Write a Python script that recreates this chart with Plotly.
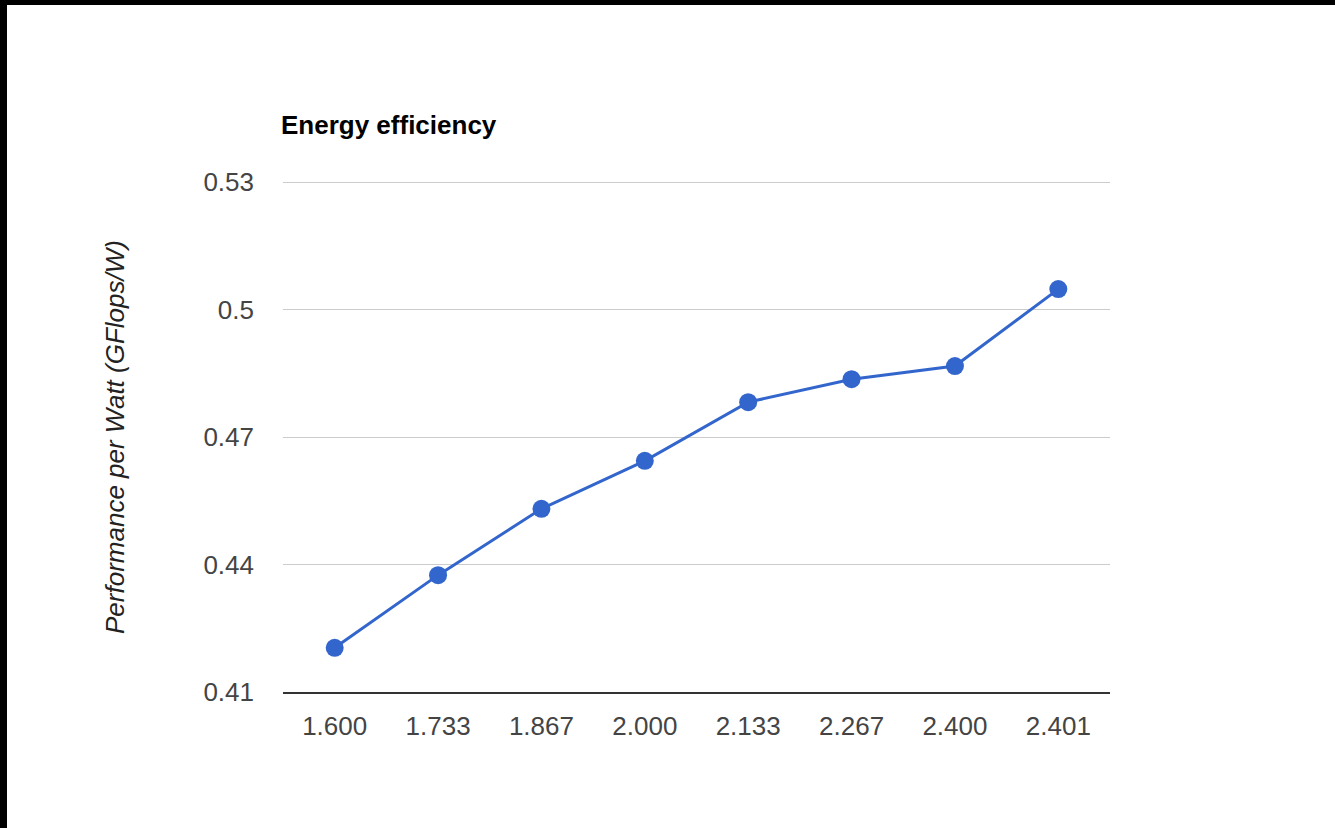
import plotly.graph_objects as go

# Clock frequency (GHz) categories and measured efficiency
frequencies = ["1.600", "1.733", "1.867", "2.000", "2.133", "2.267", "2.400", "2.401"]
perf_per_watt = [0.4204, 0.4375, 0.4531, 0.4644, 0.4782, 0.4836, 0.4867, 0.5048]

y_ticks = [0.41, 0.44, 0.47, 0.50, 0.53]
y_tick_text = ["0.41", "0.44", "0.47", "0.5", "0.53"]

W, H = 1335, 828
L, R, T, B = 283, 225, 182, 136
pw, ph = W - L - R, H - T - B

fig = go.Figure()
fig.add_trace(go.Scatter(
    x=frequencies, y=perf_per_watt, mode="lines+markers",
    line=dict(color="#3366CC", width=3),
    marker=dict(color="#3366CC", size=18),
    showlegend=False, cliponaxis=False,
))

font = "Liberation Sans, Arial, sans-serif"
fig.update_layout(
    width=W, height=H,
    margin=dict(l=L, r=R, t=T, b=B),
    paper_bgcolor="white", plot_bgcolor="white",
    font=dict(family=font, size=26, color="#444444"),
    title=dict(text="<b>Energy efficiency</b>", x=(L - 2) / W, xanchor="left",
               y=1 - 125 / H, yanchor="middle",
               font=dict(family=font, size=26, color="#000000")),
    xaxis=dict(type="category", range=[-0.5, len(frequencies) - 0.5],
               showgrid=False, showline=True, linecolor="#333333", linewidth=1.5,
               ticks="", ticklabelstandoff=10, zeroline=False,
               tickfont=dict(size=26, color="#444444")),
    yaxis=dict(range=[y_ticks[0], y_ticks[-1]], tickvals=y_ticks, ticktext=y_tick_text,
               showgrid=True, gridcolor="#CCCCCC", gridwidth=1, zeroline=False,
               showline=False, ticks="", ticklabelstandoff=28,
               tickfont=dict(size=26, color="#444444")),
    annotations=[dict(
        text="<i>Performance per Watt (GFlops/W)</i>", textangle=-90,
        xref="paper", yref="paper", x=(115 - L) / pw, y=(692 - 437) / ph,
        xanchor="center", yanchor="middle", showarrow=False,
        font=dict(family=font, size=26, color="#222222"))],
    shapes=[
        # gridline at the top of the value range (plotly skips grid at the edge);
        # nudged half a pixel down so it lands on one pixel row
        dict(type="line", xref="paper", yref="paper", layer="below",
             x0=0, x1=1, y0=1 - 0.5 / ph, y1=1 - 0.5 / ph,
             line=dict(color="#CCCCCC", width=1)),
        # dark frame along the top and left edges of the page
        dict(type="rect", xref="paper", yref="paper", layer="above",
             x0=-L / pw, x1=(W - L) / pw, y0=1 + (T - 5) / ph, y1=1 + T / ph,
             fillcolor="black", line=dict(width=0)),
        dict(type="rect", xref="paper", yref="paper", layer="above",
             x0=-L / pw, x1=(7 - L) / pw, y0=-B / ph, y1=1 + T / ph,
             fillcolor="black", line=dict(width=0)),
    ],
)

fig.write_html("out.html")
